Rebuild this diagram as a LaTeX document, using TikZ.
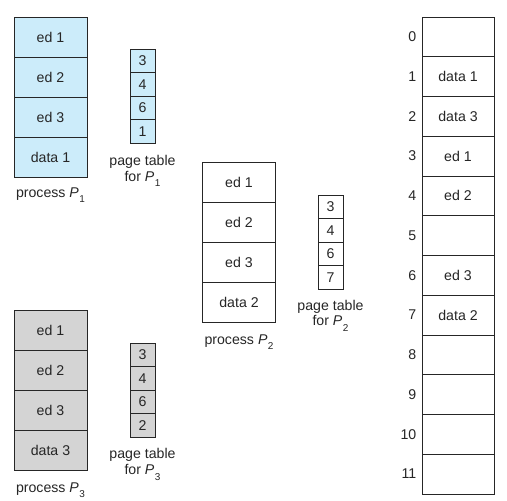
\documentclass[tikz,border=0pt]{standalone}
\usepackage{fontspec}
\setmainfont{Liberation Sans}
\newcommand{\Psub}[1]{\textit{P}\kern0.5pt\raisebox{-0.7ex}{\fontsize{10}{10}\selectfont #1}}
\definecolor{lblue}{RGB}{204,236,250}
\definecolor{lgray}{RGB}{212,212,212}
\begin{document}
\begin{tikzpicture}[x=1bp,y=-1bp,
  every node/.style={font=\fontsize{14.2}{16.5}\selectfont, text=black!85},
  pcell/.style={draw=black!85, line width=0.8bp, minimum width=73bp, minimum height=40bp, inner sep=0pt},
  tcell/.style={draw=black!85, line width=0.8bp, minimum width=25bp, minimum height=23.5bp, inner sep=0pt},
  mcell/.style={draw=black!85, line width=0.8bp, minimum width=72bp, minimum height=39.75bp, inner sep=0pt, fill=white},
  mnum/.style={anchor=east, inner sep=0pt},
  lbl/.style={align=center, inner sep=0pt}]
\useasboundingbox (0,0) rectangle (507,501);
% process P1
\node[pcell, fill=lblue] (p1a) at (50.5,37) {ed 1};
\node[pcell, fill=lblue] (p1b) at (50.5,77) {ed 2};
\node[pcell, fill=lblue] (p1c) at (50.5,117) {ed 3};
\node[pcell, fill=lblue] (p1d) at (50.5,157) {data 1};
\node[lbl] (p1l) at (50.5,195) {process \Psub{1}};
% page table P1
\node[tcell, fill=lblue] (t1a) at (142.5,60.75) {3};
\node[tcell, fill=lblue] (t1b) at (142.5,84.25) {4};
\node[tcell, fill=lblue] (t1c) at (142.5,107.75) {6};
\node[tcell, fill=lblue] (t1d) at (142.5,131.25) {1};
\node[lbl] (t1l) at (142.5,171) {page table\\[-0.5pt]for \Psub{1}};
% process P2
\node[pcell] (p2a) at (239,182) {ed 1};
\node[pcell] (p2b) at (239,222) {ed 2};
\node[pcell] (p2c) at (239,262) {ed 3};
\node[pcell] (p2d) at (239,302) {data 2};
\node[lbl] (p2l) at (239,342) {process \Psub{2}};
% page table P2
\node[tcell] (t2a) at (330.5,206.75) {3};
\node[tcell] (t2b) at (330.5,230.25) {4};
\node[tcell] (t2c) at (330.5,253.75) {6};
\node[tcell] (t2d) at (330.5,277.25) {7};
\node[lbl] (t2l) at (330.5,315.5) {page table\\[-0.5pt]for \Psub{2}};
% process P3
\node[pcell, fill=lgray] (p3a) at (50.5,330) {ed 1};
\node[pcell, fill=lgray] (p3b) at (50.5,370) {ed 2};
\node[pcell, fill=lgray] (p3c) at (50.5,410) {ed 3};
\node[pcell, fill=lgray] (p3d) at (50.5,450.5) {data 3};
\node[lbl] (p3l) at (50.5,490.5) {process \Psub{3}};
% page table P3
\node[tcell, fill=lgray] (t3a) at (142.5,354.75) {3};
\node[tcell, fill=lgray] (t3b) at (142.5,378.25) {4};
\node[tcell, fill=lgray] (t3c) at (142.5,401.75) {6};
\node[tcell, fill=lgray] (t3d) at (142.5,425.25) {2};
\node[lbl] (t3l) at (142.5,464.5) {page table\\[-0.5pt]for \Psub{3}};
% physical memory
\foreach \i/\t in {0/,1/data 1,2/data 3,3/ed 1,4/ed 2,5/,6/ed 3,7/data 2,8/,9/,10/,11/} {
  \node[mcell] (m\i) at (458,{36.875+\i*39.75}) {\t};
  \node[mnum] (n\i) at (416.5,{36.875+\i*39.75}) {\i};
}
\end{tikzpicture}
\end{document}
